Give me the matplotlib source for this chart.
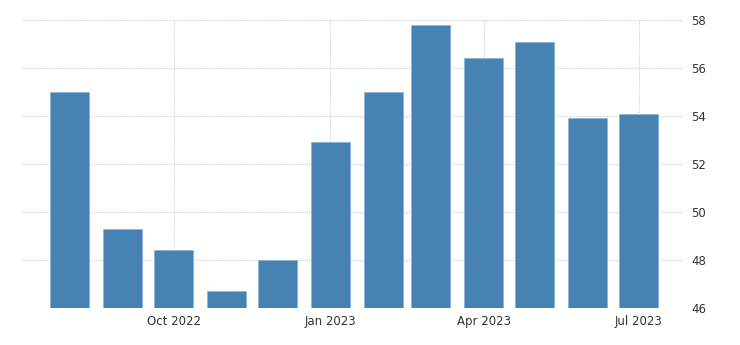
import numpy as np
import matplotlib
matplotlib.use('Agg')
import matplotlib.pyplot as plt
import matplotlib.dates as mdates
from datetime import datetime

months = ['2022-08', '2022-09', '2022-10', '2022-11', '2022-12', '2023-01',
          '2023-02', '2023-03', '2023-04', '2023-05', '2023-06', '2023-07']
values = [55.0, 49.3, 48.4, 46.7, 48.0, 52.9, 55.0, 57.8, 56.4, 57.1, 53.9, 54.1]
tick_months = ['2022-10', '2023-01', '2023-04', '2023-07']
tick_labels = ['Oct 2022', 'Jan 2023', 'Apr 2023', 'Jul 2023']
yticks = [46, 48, 50, 52, 54, 56, 58]

dates = [datetime.strptime(m, '%Y-%m') for m in months]
tick_dates = [datetime.strptime(m, '%Y-%m') for m in tick_months]

fig = plt.figure(figsize=(7.4, 3.45), dpi=100)
ax = fig.add_axes([22 / 740, 37 / 345, 661 / 740, 288 / 345])

ax.bar(dates, values, width=23, color='#4682b4', edgecolor='#8fb4d6',
       linewidth=0.6, zorder=3)

ax.set_ylim(46, 58)
ax.set_xlim(datetime(2022, 7, 4), datetime(2023, 7, 27))
ax.set_yticks(yticks)
ax.set_xticks(tick_dates)
ax.set_xticklabels(tick_labels)
ax.yaxis.tick_right()

ax.grid(True, color='#d0d0d0', linestyle=(0, (1, 1)), linewidth=0.8, zorder=0)
for s in ax.spines.values():
    s.set_visible(False)
ax.tick_params(axis='both', length=0, labelsize=8.5, colors='#333333')
ax.tick_params(axis='y', pad=6)
ax.tick_params(axis='x', pad=5)

fig.savefig('out.png', dpi=100)
